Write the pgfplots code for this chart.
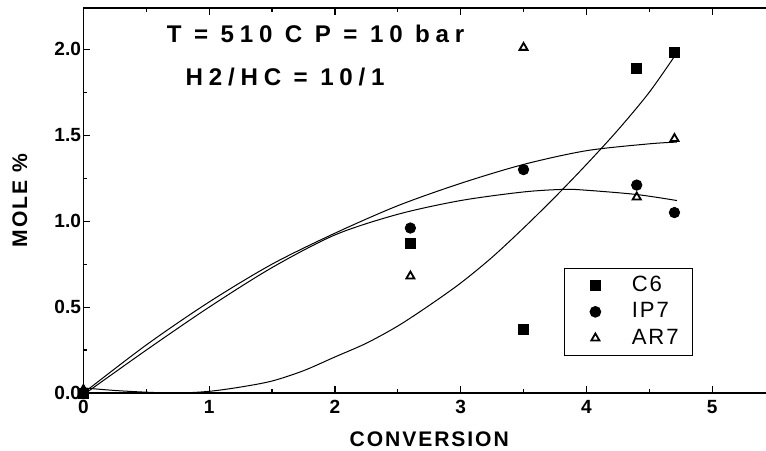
\documentclass[border=0pt]{standalone}
\usepackage{fontspec}
\setmainfont{Liberation Sans}
\newfontfamily\spaced[LetterSpace=24]{Liberation Sans}
\newfontfamily\lblfont[LetterSpace=9]{Liberation Sans}
\usepackage{pgfplots}
\pgfplotsset{compat=1.18}
\begin{document}
\begin{tikzpicture}
\begin{axis}[
  name=ax,
  scale only axis, width=344pt, height=191.5pt,
  xmin=0, xmax=5.5, ymin=0, ymax=2.24,
  xtick={0,1,2,3,4,5}, ytick={0,0.5,1.0,1.5,2.0},
  minor x tick num=1, minor y tick num=1,
  tick align=inside, major tick length=3.5pt, minor tick length=2pt,
  tick style={black, line width=0.6pt},
  axis line style={line width=0.9pt},
  /pgf/number format/assume math mode=true,
  yticklabel style={/pgf/number format/fixed, /pgf/number format/fixed zerofill,
    /pgf/number format/precision=1, inner sep=1pt},
  tick label style={font=\fontsize{9.5}{11}\selectfont\bfseries},
  xlabel={CONVERSION}, ylabel={MOLE \%},
  label style={font=\fontsize{10.5}{12}\selectfont\lblfont\bfseries},
  xlabel style={at={(axis description cs:0.5,-0.12)}, anchor=center},
  ylabel style={at={(axis description cs:-0.092,0.5)}, anchor=center},
  legend style={at={(axis cs:3.82,0.73)}, anchor=north west, draw=black,
    line width=0.6pt, font=\fontsize{11}{13}\selectfont\lblfont,
    inner xsep=5pt, inner ysep=2pt, row sep=0pt},
  legend image code/.code={\path (-0.35cm,0cm) (0.55cm,0cm);
    \draw[#1] plot coordinates {(0cm,0cm)};},
  legend cell align=left,
]
% fitted curves
\addplot[black, line width=0.5pt, smooth, forget plot] coordinates {
(0,0.03) (0.25,0.015) (0.5,0.005) (0.75,0.0) (1.0,0.01) (1.25,0.035) (1.5,0.07)
(1.75,0.13) (2.0,0.21) (2.25,0.29) (2.5,0.39) (2.75,0.51) (3.0,0.64) (3.25,0.79)
(3.5,0.96) (3.75,1.14) (4.0,1.33) (4.25,1.53) (4.5,1.75) (4.72,1.98)};
\addplot[black, line width=0.5pt, smooth, forget plot] coordinates {
(0,-0.01) (0.5,0.25) (1.0,0.50) (1.5,0.73) (2.0,0.92) (2.5,1.04) (3.0,1.12)
(3.5,1.17) (3.82,1.185) (4.0,1.18) (4.4,1.155) (4.72,1.12)};
\addplot[black, line width=0.5pt, smooth, forget plot] coordinates {
(0,0.0) (0.5,0.28) (1.0,0.53) (1.5,0.75) (2.0,0.93) (2.5,1.09) (3.0,1.22)
(3.5,1.33) (4.0,1.41) (4.5,1.45) (4.72,1.46)};
% data
\addplot[only marks, mark=square*, mark size=2.5pt, black] coordinates {
(0,0) (2.6,0.87) (3.5,0.37) (4.4,1.89) (4.7,1.98)};
\addplot[only marks, mark=*, mark size=2.6pt, black] coordinates {
(0,-0.01) (2.6,0.96) (3.5,1.30) (4.4,1.21) (4.7,1.05)};
\addplot[only marks, mark=triangle, mark size=2.3pt, black, line width=0.9pt] coordinates {
(0,0.02) (2.6,0.68) (3.5,2.01) (4.4,1.14) (4.7,1.48)};
\legend{C6, IP7, AR7}
\node[anchor=base west, inner sep=0pt, font=\fontsize{12}{14}\selectfont\spaced\bfseries]
  at (axis cs:0.66,2.04) {T = 510 C P = 10 bar};
\node[anchor=base west, inner sep=0pt, font=\fontsize{12}{14}\selectfont\spaced\bfseries]
  at (axis cs:0.81,1.79) {H2/HC = 10/1};
\end{axis}
\pgfresetboundingbox
\useasboundingbox ([xshift=-41.5pt,yshift=-28.5pt]ax.south west) rectangle ([xshift=-4.5pt,yshift=4pt]ax.north east);
\end{tikzpicture}
\end{document}
